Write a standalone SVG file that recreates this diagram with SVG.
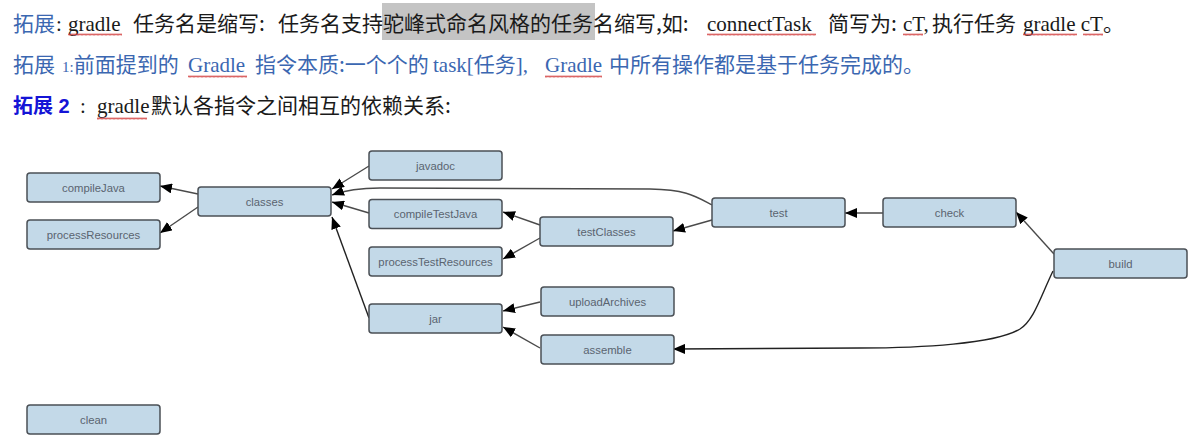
<svg xmlns="http://www.w3.org/2000/svg" width="1196" height="448" viewBox="0 0 1196 448">
<style>
.t{font-family:"Liberation Serif","Noto Sans CJK SC",serif;font-size:21px;fill:#1a1a1a}
.b{fill:#3b67b1}
.cj{font-family:"Noto Sans CJK SC","Liberation Sans",sans-serif}
.h2{font-family:"Liberation Sans","Noto Sans CJK SC",sans-serif;font-weight:bold;font-size:20px;fill:#1414d6}
.node rect{fill:#c3d9e8;stroke:#4b5056;stroke-width:1.5}
.node text{font-family:"Liberation Sans",Arial,sans-serif;font-size:11.3px;fill:#5a6470;text-anchor:middle}
.edge{fill:none;stroke:#4a4a4a;stroke-width:1.4;marker-end:url(#arr)}
</style>
<defs>
<marker id="arr" viewBox="0 0 12 10" refX="12" refY="5" markerWidth="12" markerHeight="10" orient="auto" markerUnits="userSpaceOnUse">
<path d="M0,0 L12,5 L0,10 z" fill="#000"/>
</marker>
<pattern id="wavy" width="4" height="3" patternUnits="userSpaceOnUse">
<path d="M0,2.5 L1,0.6 L2,2.5 L3,0.6 L4,2.5" stroke="#d03a3a" stroke-width="0.8" fill="none"/>
</pattern>
</defs>
<rect width="1196" height="448" fill="#fff"/>

<!-- text lines -->
<g id="header">
<rect x="382" y="3" width="213" height="37" fill="#c4c4c4"/>
<text class="t cj b" x="13" y="31">拓展</text>
<text class="t" x="56" y="31">:</text>
<text class="t" x="68" y="31">gradle</text>
<text class="t cj" x="133" y="31">任务名是缩写:</text>
<text class="t cj" x="278" y="31">任务名支持驼峰式命名风格的任务名缩写,如:</text>
<text class="t" x="707" y="31">connectTask</text>
<text class="t cj" x="828" y="31">简写为:</text>
<text class="t" x="903" y="31">cT,</text>
<text class="t cj" x="932" y="31">执行任务</text>
<text class="t" x="1023" y="31">gradle cT<tspan class="cj">。</tspan></text>

<text class="t cj b" x="13" y="72">拓展</text>
<text class="t b" x="62" y="72"><tspan style="font-size:15px">1:</tspan><tspan class="cj">前面提到的</tspan></text>
<text class="t b" x="188" y="72">Gradle</text>
<text class="t cj b" x="255" y="72">指令本质:一个个的</text>
<text class="t b" x="433" y="72">task[<tspan class="cj">任务</tspan>],</text>
<text class="t b" x="545" y="72">Gradle</text>
<text class="t cj b" x="609" y="72">中所有操作都是基于任务完成的。</text>

<text class="h2" x="13" y="113"><tspan class="cj" style="font-weight:bold">拓展</tspan> 2</text>
<text class="t" x="80" y="113">:</text>
<text class="t" x="97" y="113">gradle</text>
<text class="t cj" x="151" y="113">默认各指令之间相互的依赖关系:</text>

<g fill="url(#wavy)">
<rect x="68" y="33" width="54" height="3"/>
<rect x="707" y="33" width="109" height="3"/>
<rect x="903" y="33" width="20" height="3"/>
<rect x="1023" y="33" width="54" height="3"/>
<rect x="1083" y="33" width="20" height="3"/>
<rect x="188" y="75" width="59" height="3"/>
<rect x="545" y="75" width="57" height="3"/>
<rect x="97" y="117" width="50" height="3"/>
</g>
</g>

<!-- connectors -->
<g id="connectors">
<path class="edge" d="M198,194 L160,186"/>
<path class="edge" d="M198,207 L160,233"/>
<path class="edge" d="M369,166 L332,189"/>
<path class="edge" d="M712,205 C695,196 688,190 650,189 L380,188 C355,188 343,191 332,195"/>
<path class="edge" d="M369,213 L332,202"/>
<path class="edge" d="M369,318 L332,217" style="stroke:#222"/>
<path class="edge" d="M540,225 L503,212"/>
<path class="edge" d="M540,238 L503,259"/>
<path class="edge" d="M712,220 L673,231"/>
<path class="edge" d="M883,213 L845,213"/>
<path class="edge" d="M1054,254 L1016,212"/>
<path class="edge" d="M540,302 L503,311"/>
<path class="edge" d="M540,348 L503,327"/>
<path class="edge" d="M1053,271 C1040,298 1034,320 1020,329 C995,344 920,348 860,348 L673,349" style="stroke:#222"/>
</g>

<!-- nodes -->
<g id="compileJava" class="node"><rect x="27" y="173" width="133" height="29" rx="3"/><text x="93.5" y="191.5">compileJava</text></g>
<g id="processResources" class="node"><rect x="27" y="220" width="133" height="29" rx="3"/><text x="93.5" y="238.5">processResources</text></g>
<g id="classes" class="node"><rect x="198" y="187" width="133" height="29" rx="3"/><text x="264.5" y="205.5">classes</text></g>
<g id="javadoc" class="node"><rect x="369" y="151" width="133" height="29" rx="3"/><text x="435.5" y="169.5">javadoc</text></g>
<g id="compileTestJava" class="node"><rect x="369" y="199.5" width="133" height="29" rx="3"/><text x="435.5" y="218">compileTestJava</text></g>
<g id="processTestResources" class="node"><rect x="369" y="247" width="133" height="29" rx="3"/><text x="435.5" y="265.5">processTestResources</text></g>
<g id="testClasses" class="node"><rect x="540" y="217" width="133" height="29" rx="3"/><text x="606.5" y="235.5">testClasses</text></g>
<g id="test" class="node"><rect x="712" y="198" width="133" height="29" rx="3"/><text x="778.5" y="216.5">test</text></g>
<g id="check" class="node"><rect x="883" y="198" width="133" height="29" rx="3"/><text x="949.5" y="216.5">check</text></g>
<g id="build" class="node"><rect x="1054" y="249" width="133" height="29" rx="3"/><text x="1120.5" y="267.5">build</text></g>
<g id="jar" class="node"><rect x="369" y="304" width="133" height="29" rx="3"/><text x="435.5" y="322.5">jar</text></g>
<g id="uploadArchives" class="node"><rect x="541" y="287" width="133" height="29" rx="3"/><text x="607.5" y="305.5">uploadArchives</text></g>
<g id="assemble" class="node"><rect x="541" y="335" width="133" height="29" rx="3"/><text x="607.5" y="353.5">assemble</text></g>
<g id="clean" class="node"><rect x="27" y="405" width="133" height="29" rx="3"/><text x="93.5" y="423.5">clean</text></g>
</svg>
